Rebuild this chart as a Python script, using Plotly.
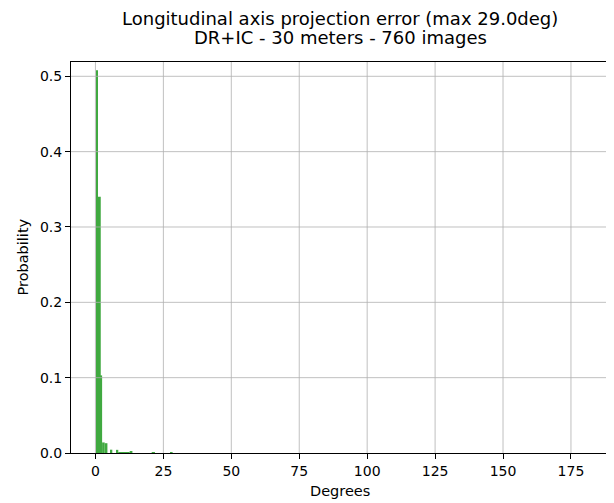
import plotly.graph_objects as go

# Histogram envelope (degrees) and probabilities
bin_left = [0.37, 0.74, 1.95, 2.45, 3.40, 5.60, 7.70, 8.40, 12.60, 20.70, 27.80]
bin_right = [0.74, 1.95, 2.45, 3.40, 4.40, 6.20, 8.40, 12.60, 13.60, 21.90, 28.40]
probability = [0.508, 0.340, 0.103, 0.014, 0.013, 0.0044, 0.0042, 0.0013, 0.0026, 0.0013, 0.0013]

x_ticks = [0, 25, 50, 75, 100, 125, 150, 175]
y_ticks = [0.0, 0.1, 0.2, 0.3, 0.4, 0.5]
y_tick_text = ["0.0", "0.1", "0.2", "0.3", "0.4", "0.5"]

title_lines = ["Longitudinal axis projection error (max 29.0deg)", "DR+IC - 30 meters - 760 images"]
x_label = "Degrees"
y_label = "Probability"

centers = [(l + r) / 2 for l, r in zip(bin_left, bin_right)]
widths = [r - l for l, r in zip(bin_left, bin_right)]

fig = go.Figure()
fig.add_trace(go.Bar(
    x=centers, y=probability, width=widths,
    marker=dict(color="#2ca02c", line=dict(width=0)),
    opacity=0.9, showlegend=False,
))

grid_color = "#b0b0b0"
shapes = []
for t in x_ticks:
    shapes.append(dict(type="line", xref="x", yref="paper", x0=t, x1=t, y0=0, y1=1,
                       line=dict(color=grid_color, width=0.8), layer="above"))
for t in y_ticks[1:]:
    shapes.append(dict(type="line", xref="paper", yref="y", x0=0, x1=1, y0=t, y1=t,
                       line=dict(color=grid_color, width=0.8), layer="above"))

font = "DejaVu Sans"
annotations = [
    dict(text=title_lines[0], xref="paper", yref="paper", x=0.5, y=1.0, yshift=44,
         xanchor="center", yanchor="middle", showarrow=False,
         font=dict(family=font, size=18, color="black")),
    dict(text=title_lines[1], xref="paper", yref="paper", x=0.5, y=1.0, yshift=25,
         xanchor="center", yanchor="middle", showarrow=False,
         font=dict(family=font, size=18, color="black")),
    dict(text=x_label, xref="paper", yref="paper", x=0.5, y=0.0, yshift=-38,
         xanchor="center", yanchor="middle", showarrow=False,
         font=dict(family=font, size=14.5, color="black")),
    dict(text=y_label, xref="paper", yref="paper", x=0.0, y=0.5, xshift=-49,
         xanchor="center", yanchor="middle", textangle=-90, showarrow=False,
         font=dict(family=font, size=14.5, color="black")),
]

fig.update_layout(
    width=606, height=495,
    margin=dict(l=63, r=5, t=54, b=50),
    paper_bgcolor="white", plot_bgcolor="white",
    font=dict(family=font, size=14, color="black"),
    shapes=shapes,
    annotations=annotations,
    xaxis=dict(range=[-9, 189], tickvals=x_ticks, showgrid=False, zeroline=False,
               showline=True, mirror=True, linecolor="black", linewidth=1,
               ticks="outside", ticklen=5, tickcolor="black", layer="above traces",
               tickfont=dict(family=font, size=14, color="black")),
    yaxis=dict(range=[0, 0.519], tickvals=y_ticks, ticktext=y_tick_text, showgrid=False,
               zeroline=False, showline=True, mirror=True, linecolor="black", linewidth=1,
               ticks="outside", ticklen=5, tickcolor="black", layer="above traces",
               tickfont=dict(family=font, size=14, color="black")),
)

fig.write_html("out.html")
